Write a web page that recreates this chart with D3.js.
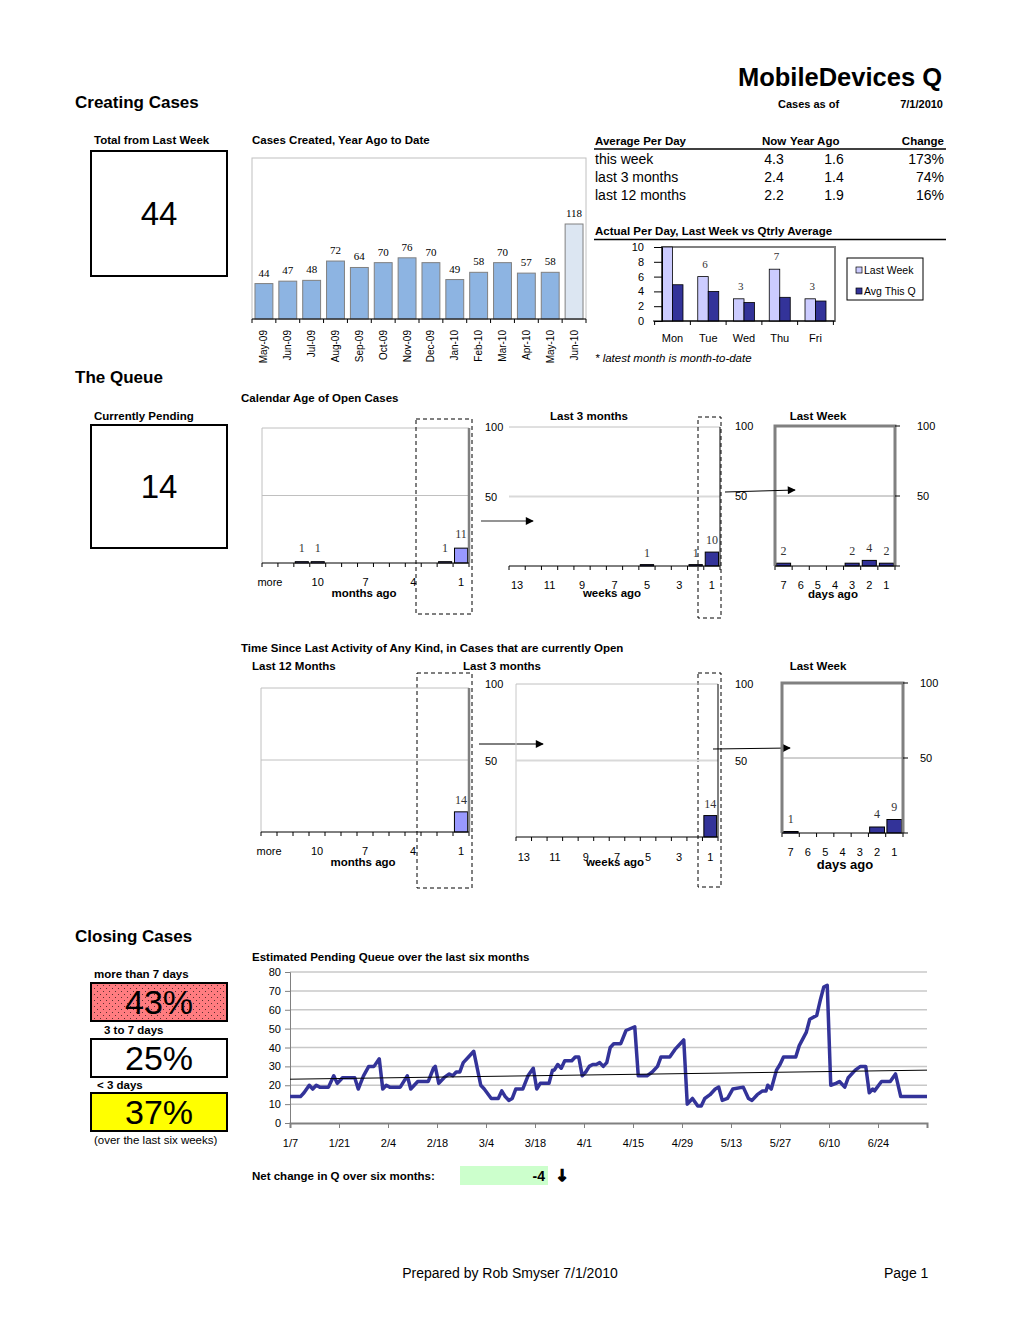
<!DOCTYPE html>
<html><head><meta charset="utf-8">
<script src="https://cdn.jsdelivr.net/npm/d3@7"></script>
<style>
body{margin:0;background:#fff;}
svg{display:block;font-family:"Liberation Sans",Arial,sans-serif;}
</style></head><body>
<svg id="c" width="1020" height="1319"></svg>
<script>
// ---------------- DATA ----------------
const createdMonths = ["May-09","Jun-09","Jul-09","Aug-09","Sep-09","Oct-09","Nov-09","Dec-09","Jan-10","Feb-10","Mar-10","Apr-10","May-10","Jun-10"];
const createdValues = [44,47,48,72,64,70,76,70,49,58,70,57,58,118];

const avgRowLabels = ["this week","last 3 months","last 12 months"];
const avgNow = ["4.3","2.4","2.2"];
const avgYearAgo = ["1.6","1.4","1.9"];
const avgChange = ["173%","74%","16%"];

const weekdays = ["Mon","Tue","Wed","Thu","Fri"];
const lastWeekPerDay = [10,6,3,7,3];
const avgThisQPerDay = [4.9,4.0,2.5,3.2,2.7];
const perDaySeries = ["Last Week","Avg This Q"];

const monthCats = ["more","12","11","10","9","8","7","6","5","4","3","2","1"];
const weekCats = ["13","12","11","10","9","8","7","6","5","4","3","2","1"];
const dayCats = ["7","6","5","4","3","2","1"];
const monthTickShown = ["more","10","7","4","1"];
const weekTickShown = ["13","11","9","7","5","3","1"];

const ageMonths = [0,0,1,1,0,0,0,0,0,0,0,1,11];
const ageWeeks = [0,0,0,0,0,0,0,0,1,0,0,1,10];
const ageDays = [2,0,0,0,2,4,2];
const activityMonths = [0,0,0,0,0,0,0,0,0,0,0,0,14];
const activityWeeks = [0,0,0,0,0,0,0,0,0,0,0,0,14];
const activityDays = [1,0,0,0,0,4,9];

// pending queue: day offset from 1/7/2010 and count
const queueDay = [0,3,4,5.5,6.5,7.5,8.5,11,12.5,13.5,
 15,18.5,19.5,21,22.5,24,25.5,26.5,27.5,28.5,
 31.5,33.5,34.5,36.5,39.5,41,41.5,42.5,44,45.5,
 46.5,47.5,48.5,49.5,51,52.5,54.5,55.5,57.5,59.5,
 60.5,61.5,62.5,63.5,64.5,66.5,68,69.5,70.5,71.5,
 74,75,75.5,76.5,77.5,78.5,80.5,81.5,82.5,83.5,
 84.5,85.5,86.5,87.5,88.5,89.5,90.5,91.5,92.5,94.5,
 96,98.5,99.5,102,103.5,105,106,108.5,110,112.5,
 113.5,115,116.5,117.5,118.5,120,121.5,122.5,123.5,125,
 126.5,129.5,131,132,133.5,135,136,136.5,137.5,139,
 140,141,144.5,145.5,147.5,148.5,150.5,151.5,152.5,153.5,
 154.5,156,157,158.5,159.5,161.5,163,164.5,165.5,166.5,
 167,169,171.5,173,174.5,182];
const queueCount = [14,14,16,20,18,20,19,19,25,21,
 24,24,18,25,30,30,34,18,20,19,
 19,25,18,22,22,29,30,21,24,26,
 25,27,27,32,35,38,20,18,13,13,
 17,14,12,13,18,18,25,29,18,21,
 21,28,28,31,29,33,33,35,35,25,
 27,30,31,31,32,30,32,40,42,42,
 49,51,25,25,27,30,35,35,39,44,
 10,13,9,9,13,15,18,19,12,13,
 18,19,13,12,15,17,17,20,18,28,
 31,35,35,41,48,55,57,65,72,73,
 20,21,22,19,24,28,30,30,16,18,
 17,22,22,26,14,14];
const trendDay = [0,182];
const trendValues = [23.2,28.0];
const queueTickDays = [0,14,28,42,56,70,84,98,112,126,140,154,168,182];
const queueYTicks = [0,10,20,30,40,50,60,70,80];

const closingLabels = ["more than 7 days","3 to 7 days","< 3 days"];
const closingPct = ["43%","25%","37%"];
const totalLastWeek = "44";
const currentlyPending = "14";
const netChange = "-4";

// ---------------- DRAW ----------------
const svg = d3.select("#c");
const F = "Liberation Sans";
const BS = 11.5; // small bold size
function txt(x,y,s,o={}){
  const t = svg.append("text").attr("x",x).attr("y",y).text(s)
    .attr("font-size",o.size||(o.bold?BS:11)).attr("font-weight",o.bold?"bold":"normal")
    .attr("text-anchor",o.anchor||"start").attr("fill",o.fill||"#000");
  if(o.family) t.attr("font-family",o.family);
  if(o.italic) t.attr("font-style","italic");
  return t;
}
function line(x1,y1,x2,y2,stroke,w,dash){
  const l = svg.append("line").attr("x1",x1).attr("y1",y1).attr("x2",x2).attr("y2",y2)
    .attr("stroke",stroke).attr("stroke-width",w||1);
  if(dash) l.attr("stroke-dasharray",dash);
  return l;
}
const defs = svg.append("defs");
const pat = defs.append("pattern").attr("id","dots").attr("width",6).attr("height",6).attr("patternUnits","userSpaceOnUse");
pat.append("rect").attr("width",6).attr("height",6).attr("fill","#FF7C80");
pat.append("rect").attr("x",1).attr("y",1).attr("width",1).attr("height",1).attr("fill","#5a3030");
pat.append("rect").attr("x",4).attr("y",4).attr("width",1).attr("height",1).attr("fill","#5a3030");
defs.append("marker").attr("id","arr").attr("viewBox","0 0 10 10").attr("refX",9).attr("refY",5)
  .attr("markerWidth",10).attr("markerHeight",8).attr("markerUnits","userSpaceOnUse").attr("orient","auto")
  .append("path").attr("d","M0,0L10,5L0,10Z").attr("fill","#000");

// Header
txt(942,86,"MobileDevices Q",{size:25.5,bold:true,anchor:"end"});
txt(75,108,"Creating Cases",{size:17,bold:true});
txt(778,108,"Cases as of",{bold:true,size:11});
txt(943,108,"7/1/2010",{bold:true,size:11,anchor:"end"});

// Total box
txt(94,144,"Total from Last Week",{bold:true});
svg.append("rect").attr("x",91).attr("y",151).attr("width",136).attr("height",125).attr("fill","#fff").attr("stroke","#000").attr("stroke-width",2);
txt(159,225,totalLastWeek,{size:33,anchor:"middle"});

// Cases created chart
txt(252,144,"Cases Created, Year Ago to Date",{bold:true});
{
  const x = d3.scaleBand().domain(createdMonths).range([252,586]).paddingInner(0.25).paddingOuter(0.125);
  const y = d3.scaleLinear().domain([0,200]).range([319,158]);
  svg.append("rect").attr("x",252).attr("y",158).attr("width",334).attr("height",161).attr("fill","none").attr("stroke","#c0c0c0");
  svg.append("g").selectAll("rect").data(createdValues).join("rect")
    .attr("x",(d,i)=>x(createdMonths[i])).attr("y",d=>y(d)).attr("width",x.bandwidth()).attr("height",d=>y(0)-y(d))
    .attr("fill",(d,i)=>i===createdValues.length-1?"#DCE6F2":"#8DB4E2").attr("stroke","#808080");
  svg.append("g").selectAll("text").data(createdValues).join("text")
    .attr("x",(d,i)=>x(createdMonths[i])+x.bandwidth()/2).attr("y",d=>y(d)-7)
    .attr("text-anchor","middle").attr("font-family","Liberation Serif").attr("font-size",11).text(d=>d);
  const ax = svg.append("g").attr("transform","translate(0,319)").call(d3.axisBottom(x).tickSize(0).tickPadding(0));
  ax.select(".domain").remove();
  ax.selectAll("text").attr("font-family",F).attr("font-size",10).attr("text-anchor","end")
    .attr("x",0).attr("y",0).attr("dy",null)
    .attr("transform","translate(3.5,11) rotate(-90)");
  line(252,319,586,319,"#000",1);
  const step = x.step();
  d3.range(15).forEach(k=>line(252+k*step,319,252+k*step,323,"#000",1));
}

// Average per day table
txt(595,145,"Average Per Day",{bold:true});
txt(762,145,"Now",{bold:true});
txt(790,145,"Year Ago",{bold:true});
txt(944,145,"Change",{bold:true,anchor:"end"});
line(594,149,946,149,"#000",1.5);
avgRowLabels.forEach((r,i)=>{
  const yy = 164 + i*18;
  txt(595,yy,r,{size:14});
  txt(774,yy,avgNow[i],{size:14,anchor:"middle"});
  txt(834,yy,avgYearAgo[i],{size:14,anchor:"middle"});
  txt(944,yy,avgChange[i],{size:14,anchor:"end"});
});

// Actual per day chart
txt(595,235,"Actual Per Day, Last Week vs Qtrly Average",{bold:true});
line(594,239.5,946,239.5,"#000",1.5);
{
  const x = d3.scaleBand().domain(weekdays).range([662,826]).paddingInner(0.413).paddingOuter(0);
  const xs = d3.scaleBand().domain(perDaySeries).range([0,x.bandwidth()]);
  const y = d3.scaleLinear().domain([0,10]).range([321,247]);
  svg.append("rect").attr("x",662).attr("y",247).attr("width",173).attr("height",74).attr("fill","none").attr("stroke","#808080").attr("stroke-width",2);
  const g = svg.append("g");
  weekdays.forEach((d,i)=>{
    [lastWeekPerDay[i],avgThisQPerDay[i]].forEach((v,j)=>{
      g.append("rect").attr("x",x(d)+xs(perDaySeries[j])).attr("y",y(v)).attr("width",xs.bandwidth()).attr("height",y(0)-y(v))
        .attr("fill",j===0?"#CCCCFF":"#333399").attr("stroke","#000").attr("stroke-width",0.8);
    });
    if(lastWeekPerDay[i]<10){
      txt(x(d)+xs.bandwidth()/2+2,y(lastWeekPerDay[i])-9,lastWeekPerDay[i],{family:"Liberation Serif",size:11,anchor:"middle",fill:"#333"});
    }
  });
  const ay = svg.append("g").attr("transform","translate(662,0)").call(d3.axisLeft(y).tickValues([0,2,4,6,8,10]).tickSize(8).tickPadding(10));
  ay.selectAll("text").attr("font-family",F).attr("font-size",11).attr("fill","#000");
  ay.select(".domain").attr("stroke","#000");
  const ax = svg.append("g").attr("transform","translate(0,321)").call(d3.axisBottom(x).tickSize(0).tickPadding(13));
  ax.select(".domain").remove();
  ax.selectAll("text").attr("font-family",F).attr("font-size",11).attr("fill","#000");
  line(653,321,835,321,"#000",1);
  const gap = x.step()-x.bandwidth();
  weekdays.concat(["end"]).forEach((d,i)=>{ const xx = 662 - gap/2 + i*x.step(); line(xx,321,xx,325,"#000",1); });
  // legend
  svg.append("rect").attr("x",847).attr("y",258).attr("width",76).attr("height",42).attr("fill","#fff").attr("stroke","#000");
  perDaySeries.forEach((s,j)=>{
    svg.append("rect").attr("x",856).attr("y",267+j*21).attr("width",6).attr("height",6).attr("fill",j===0?"#CCCCFF":"#333399").attr("stroke","#000").attr("stroke-width",0.7);
    txt(864,274+j*21,s,{size:10.5});
  });
}
txt(595,362,"* latest month is month-to-date",{italic:true,size:11.5});

// ---------------- Queue ----------------
txt(75,383,"The Queue",{size:17,bold:true});
txt(241,402,"Calendar Age of Open Cases",{bold:true});
txt(94,420,"Currently Pending",{bold:true});
svg.append("rect").attr("x",91).attr("y",425).attr("width",136).attr("height",123).attr("fill","#fff").attr("stroke","#000").attr("stroke-width",2);
txt(159,498,currentlyPending,{size:33,anchor:"middle"});

function hist(o){
  const n = o.cats.length;
  const x = d3.scaleBand().domain(o.cats).range([o.x0,o.x1]).paddingInner(o.pad).paddingOuter(o.pad/2);
  const y = d3.scaleLinear().domain([0,100]).range([o.yBase,o.yTop]);
  const g = svg.append("g");
  if(o.frame==="light"){
    line(o.x0,o.yTop,o.x0,o.yBase,"#c0c0c0",1);
    line(o.x0,o.yTop,o.x1,o.yTop,"#c0c0c0",1);
    line(o.x0,y(50),o.x1,y(50),"#c0c0c0",1);
    line(o.x1,o.yTop,o.x1,o.yBase,"#808080",2.5);
  } else if(o.frame==="grid"){
    if(o.leftBorder) line(o.x0,o.yTop,o.x0,o.yBase,"#c8c8c8",1);
    line(o.x0,o.yTop,o.x1,o.yTop,"#c0c0c0",1);
    line(o.x0,y(50),o.x1,y(50),"#d9d9d9",2);
    line(o.x1,o.yTop,o.x1,o.yBase,"#000",1);
  } else if(o.frame==="heavy"){
    line(o.x0,y(50),o.x1,y(50),"#a0a0a0",1);
    svg.append("path").attr("d",`M${o.x0},${o.yBase}V${o.yTop}H${o.x1}V${o.yBase}`).attr("fill","none").attr("stroke","#808080").attr("stroke-width",3);
    [0,50,100].forEach(v=>line(o.x1,y(v),o.x1+5,y(v),"#000",1));
  }
  g.selectAll("rect").data(o.vals).join("rect")
    .attr("x",(d,i)=>x(o.cats[i])).attr("y",d=>y(d)).attr("width",x.bandwidth()).attr("height",d=>y(0)-y(d))
    .attr("fill",o.fill).attr("stroke","#000").attr("stroke-width",1);
  o.vals.forEach((v,i)=>{
    if(v>0) txt(x(o.cats[i])+x.bandwidth()/2,y(v)-(o.lab||9),v,{family:"Liberation Serif",size:12,anchor:"middle",fill:"#333"});
  });
  line(o.x0,o.yBase,o.x1,o.yBase,"#000",1);
  const step = (o.x1-o.x0)/n;
  d3.range(n+1).forEach(k=>line(o.x0+k*step,o.yBase,o.x0+k*step,o.yBase+4,"#000",1));
  const ax = svg.append("g").attr("transform",`translate(0,${o.yBase})`)
    .call(d3.axisBottom(x).tickSize(0).tickPadding(o.tickPad).tickFormat(d=>o.shown.includes(d)?d:""));
  ax.select(".domain").remove();
  ax.selectAll("text").attr("font-family",F).attr("font-size",11).attr("fill","#000");
  return {x,y};
}

const A = hist({x0:262,x1:469,yTop:428,yBase:563,cats:monthCats,vals:ageMonths,pad:0.18,fill:"#9999FF",frame:"light",shown:monthTickShown,tickPad:15,lab:10});
txt(364,597,"months ago",{bold:true,anchor:"middle"});
txt(589,420,"Last 3 months",{bold:true,anchor:"middle"});
const B = hist({x0:509,x1:720,yTop:427,yBase:566,cats:weekCats,vals:ageWeeks,pad:0.18,fill:"#333399",frame:"grid",shown:weekTickShown,tickPad:15,lab:8});
txt(485,B.y(100)+4,"100");
txt(485,B.y(50)+4,"50");
txt(612,597,"weeks ago",{bold:true,anchor:"middle"});
txt(818,420,"Last Week",{bold:true,anchor:"middle"});
const C = hist({x0:775,x1:895,yTop:426,yBase:566,cats:dayCats,vals:ageDays,pad:0.18,fill:"#333399",frame:"heavy",shown:dayCats,tickPad:15,lab:8});
txt(917,C.y(100)+4,"100");
txt(917,C.y(50)+4,"50");
txt(735,C.y(100)+4,"100");
txt(735,C.y(50)+4,"50");
txt(833,598,"days ago",{bold:true,anchor:"middle"});

// dashed boxes & arrows
[[416,419,472,614],[698,417,721,618],[417,673,472,888],[698,673,721,887]].forEach(b=>{
  svg.append("rect").attr("x",b[0]).attr("y",b[1]).attr("width",b[2]-b[0]).attr("height",b[3]-b[1])
    .attr("fill","none").attr("stroke","#000").attr("stroke-width",1).attr("stroke-dasharray","4,3");
});
line(481,521,533,521,"#707070",1.5).attr("marker-end","url(#arr)");
line(725,492,795,490,"#000",1).attr("marker-end","url(#arr)");
line(479,744,543,744,"#000",1).attr("marker-end","url(#arr)");
line(713,749,790,748,"#000",1).attr("marker-end","url(#arr)");

// Time since last activity
txt(241,652,"Time Since Last Activity of Any Kind, in Cases that are currently Open",{bold:true});
txt(252,670,"Last 12 Months",{bold:true});
txt(463,670,"Last 3 months",{bold:true});
txt(818,670,"Last Week",{bold:true,anchor:"middle"});
const D = hist({x0:261,x1:469,yTop:688,yBase:832,cats:monthCats,vals:activityMonths,pad:0.18,fill:"#9999FF",frame:"light",shown:monthTickShown,tickPad:15,lab:8});
txt(363,866,"months ago",{bold:true,anchor:"middle"});
const E = hist({x0:516,x1:718,yTop:684,yBase:837,cats:weekCats,vals:activityWeeks,pad:0.18,fill:"#333399",frame:"grid",leftBorder:true,shown:weekTickShown,tickPad:16,lab:8});
txt(485,E.y(100)+4,"100");
txt(485,E.y(50)+4,"50");
txt(615,866,"weeks ago",{bold:true,anchor:"middle"});
const G = hist({x0:782,x1:903,yTop:683,yBase:833,cats:dayCats,vals:activityDays,pad:0.14,fill:"#333399",frame:"heavy",shown:dayCats,tickPad:15,lab:9});
txt(920,G.y(100)+4,"100");
txt(920,G.y(50)+4,"50");
txt(735,G.y(100)+5,"100");
txt(735,G.y(50)+7,"50");
txt(845,869,"days ago",{bold:true,size:13,anchor:"middle"});

// ---------------- Closing ----------------
txt(75,942,"Closing Cases",{size:17,bold:true});
const boxY = [983,1039,1093];
const boxFill = ["url(#dots)","#fff","#FFFF00"];
const labY = [978,1034,1089];
const labX = [94,104,97];
closingLabels.forEach((l,i)=>{
  txt(labX[i],labY[i],l,{bold:true});
  svg.append("rect").attr("x",91).attr("y",boxY[i]).attr("width",136).attr("height",38).attr("fill",boxFill[i]).attr("stroke","#000").attr("stroke-width",2);
  txt(159,boxY[i]+31,closingPct[i],{size:34,anchor:"middle"});
});
txt(94,1144,"(over the last six weeks)",{size:11.5});

txt(252,961,"Estimated Pending Queue over the last six months",{bold:true});
{
  const t0 = new Date(2010,0,7);
  const dt = d=>t0.getTime()+d*864e5;
  const x = d3.scaleTime().domain([t0,new Date(2010,6,8)]).range([290,927]);
  const y = d3.scaleLinear().domain([0,80]).range([1123,972]);
  queueYTicks.filter(v=>v>0).forEach(v=>line(290,y(v),927,y(v),"#c8c8c8",1.5));
  const ay = svg.append("g").attr("transform","translate(290,0)").call(d3.axisLeft(y).tickValues(queueYTicks).tickSize(5).tickPadding(4));
  ay.selectAll("text").attr("font-family",F).attr("font-size",11).attr("fill","#000");
  ay.select(".domain").attr("stroke","#808080");
  ay.selectAll(".tick line").attr("stroke","#808080");
  const tickDates = queueTickDays.map(d=>new Date(dt(d)));
  const fmt = d3.timeFormat("%-m/%-d");
  const ax = svg.append("g").attr("transform","translate(0,1123)")
    .call(d3.axisBottom(x).tickValues(tickDates).tickSize(5).tickPadding(11).tickFormat((d,i)=>i===tickDates.length-1?"":fmt(d)));
  ax.selectAll("text").attr("font-family",F).attr("font-size",11).attr("fill","#000");
  ax.select(".domain").attr("stroke","#808080").attr("stroke-width",2);
  ax.selectAll(".tick line").attr("stroke","#808080");
  const pts = queueDay.map((d,i)=>[new Date(dt(d)),queueCount[i]]);
  svg.append("path").datum(pts).attr("fill","none").attr("stroke","#333399").attr("stroke-width",3.5)
    .attr("stroke-linejoin","round").attr("d",d3.line().x(d=>x(d[0])).y(d=>y(d[1])));
  const tr = trendDay.map((d,i)=>[new Date(dt(d)),trendValues[i]]);
  svg.append("path").datum(tr).attr("fill","none").attr("stroke","#000").attr("stroke-width",1)
    .attr("d",d3.line().x(d=>x(d[0])).y(d=>y(d[1])));
}

txt(252,1180,"Net change in Q over six months:",{bold:true});
svg.append("rect").attr("x",460).attr("y",1166).attr("width",88).attr("height",19).attr("fill","#CCFFCC");
txt(545,1181,netChange,{size:14,bold:true,anchor:"end"});
txt(562,1181,"↓",{size:16,bold:true,anchor:"middle",family:"DejaVu Sans"}).attr("stroke","#000").attr("stroke-width",1.2);

txt(510,1278,"Prepared by Rob Smyser 7/1/2010",{size:14,anchor:"middle"});
txt(884,1278,"Page 1",{size:14});
</script>
</body></html>
